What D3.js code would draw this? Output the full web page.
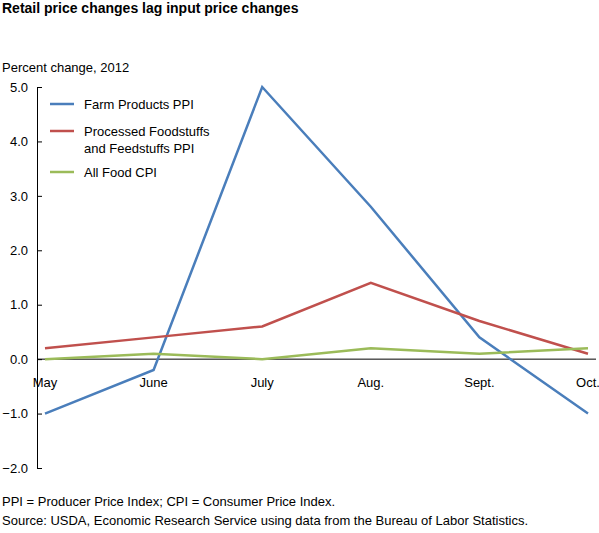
<!DOCTYPE html><html><head><meta charset="utf-8"><script src="https://cdn.jsdelivr.net/npm/d3@7"></script>
<style>body{margin:0;background:#fff}text{font-family:Arial,"Liberation Sans",sans-serif;fill:#000}</style></head><body>
<script>
const months=["May","June","July","Aug.","Sept.","Oct."];
const farmPPI=[-1.0,-0.2,5.0,2.8,0.4,-1.0];
const foodPPI=[0.2,0.4,0.6,1.4,0.7,0.1];
const foodCPI=[0.0,0.1,0.0,0.2,0.1,0.2];
const yTicks=[5,4,3,2,1,0,-1,-2];
const series=[
 {name:["Farm Products PPI"],vals:farmPPI,color:"#4a7ebb"},
 {name:["Processed Foodstuffs","and Feedstuffs PPI"],vals:foodPPI,color:"#c0504d"},
 {name:["All Food CPI"],vals:foodCPI,color:"#9bbb59"}];
const svg=d3.select("body").append("svg").attr("width",599).attr("height",533);
const x=d3.scalePoint().domain(months).range([45,588]);
const y=d3.scaleLinear().domain([-2,5]).range([468,87]);
svg.append("text").attr("x",2).attr("y",13).attr("font-size",14).attr("font-weight","bold").text("Retail price changes lag input price changes");
svg.append("text").attr("x",2).attr("y",72).attr("font-size",13).text("Percent change, 2012");
const ya=svg.append("g").attr("transform","translate(37,0)").call(d3.axisLeft(y).tickValues(yTicks).tickFormat(d3.format(".1f")).tickSize(-5).tickPadding(9).tickSizeOuter(0));
ya.select(".domain").attr("stroke","#000");
ya.selectAll("text").attr("font-size",13).style("font-family","Arial,'Liberation Sans',sans-serif");
svg.append("line").attr("x1",37).attr("x2",596).attr("y1",y(0)).attr("y2",y(0)).attr("stroke","#000");
months.forEach(m=>svg.append("text").attr("x",x(m)).attr("y",y(0)+28).attr("font-size",13).attr("text-anchor","middle").text(m));
const line=d3.line().x((d,i)=>x(months[i])).y(d=>y(d));
series.forEach((s,k)=>{
 svg.append("path").attr("d",line(s.vals)).attr("fill","none").attr("stroke",s.color).attr("stroke-width",2.5);
 const ly=[104,131,172][k];
 svg.append("line").attr("x1",50).attr("x2",74).attr("y1",ly).attr("y2",ly).attr("stroke",s.color).attr("stroke-width",2.5);
 s.name.forEach((t,j)=>svg.append("text").attr("x",84).attr("y",ly+5+j*17).attr("font-size",13).text(t));
});
svg.append("text").attr("x",2).attr("y",506).attr("font-size",13).text("PPI = Producer Price Index; CPI = Consumer Price Index.");
svg.append("text").attr("x",2).attr("y",525).attr("font-size",13).text("Source: USDA, Economic Research Service using data from the Bureau of Labor Statistics.");
</script></body></html>
